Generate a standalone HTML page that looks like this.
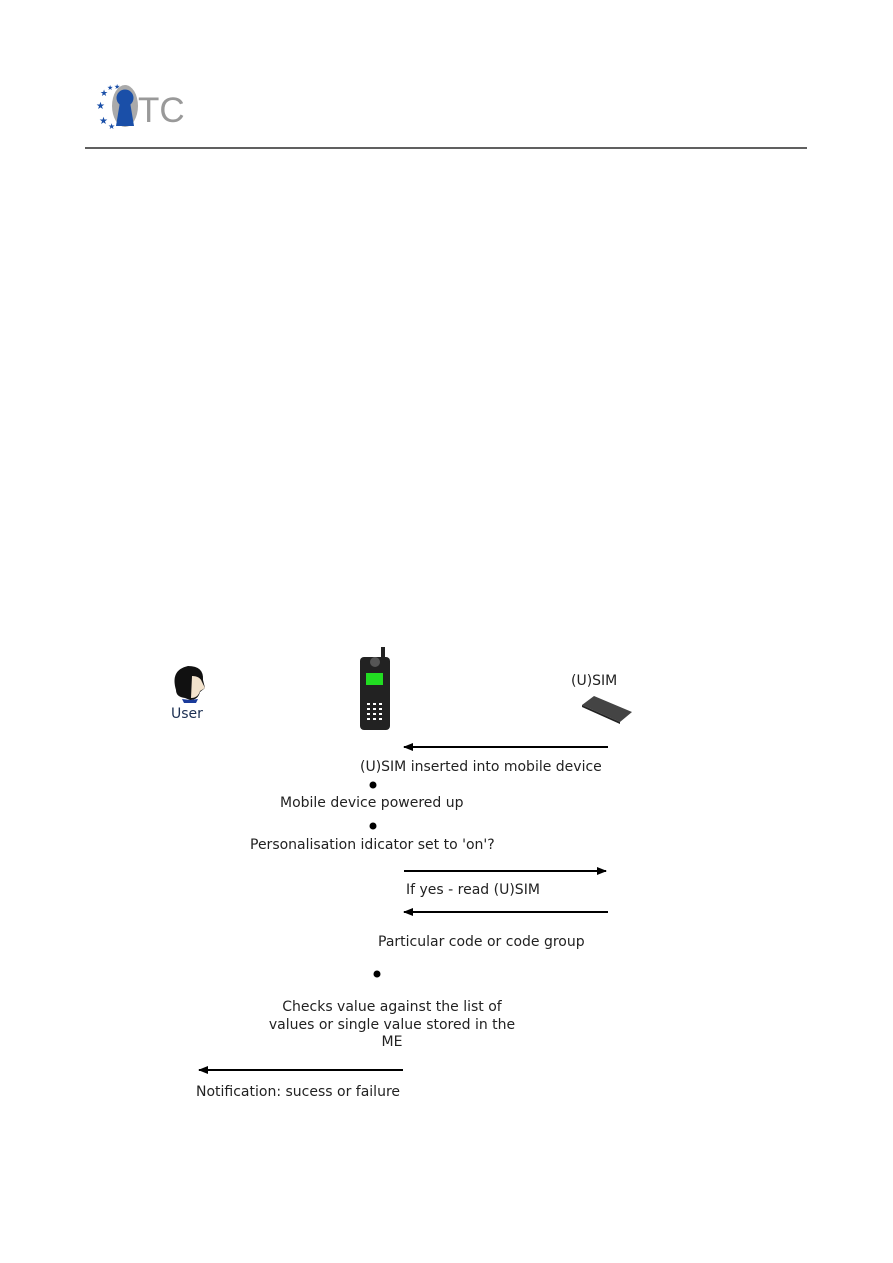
<!DOCTYPE html>
<html><head><meta charset="utf-8"><style>
html,body{margin:0;padding:0;background:#fff;}
body{width:893px;height:1263px;position:relative;overflow:hidden;font-family:"DejaVu Sans","Liberation Sans",sans-serif;}
.t{position:absolute;font-size:14px;color:#222;white-space:nowrap;line-height:16px;}
</style></head><body>
<svg width="893" height="1263" style="position:absolute;left:0;top:0">
 <g fill="#1a4fa8">
  <text x="100" y="96" font-size="9" fill="#1a4fa8">★</text>
  <text x="107" y="90" font-size="7" fill="#1a4fa8">★</text>
  <text x="114" y="89" font-size="7" fill="#1a4fa8">★</text>
  <text x="96" y="109" font-size="10" fill="#1a4fa8">★</text>
  <text x="99" y="124" font-size="10" fill="#1a4fa8">★</text>
  <text x="108" y="129" font-size="8" fill="#1a4fa8">★</text>
 </g>
 <ellipse cx="125" cy="106" rx="13" ry="21" fill="#aaa"/>
 <circle cx="125" cy="98" r="8.5" fill="#1a4fa8"/>
 <path d="M120 102 L116 126 L134 126 L130 102 Z" fill="#1a4fa8"/>
 <text x="138" y="122" font-family="Liberation Sans, sans-serif" font-size="35" fill="#999">TC</text>
 <line x1="85" y1="148" x2="807" y2="148" stroke="#000" stroke-width="1.3"/>

 <path d="M176 690 Q170 670 188 666 Q204 666 203 680 L205 688 L200 692 Q198 700 190 700 L185 698 Q176 697 176 690Z" fill="#111"/>
 <path d="M192 676 Q200 676 202 682 L205 688 L200 691 Q198 698 191 698 Z" fill="#f2e2cc"/>
 <path d="M182 699 L190 700 L198 699 L196 703 L184 703 Z" fill="#1a3a9a"/>
 <rect x="381" y="647" width="4" height="14" fill="#222"/>
 <rect x="360" y="657" width="30" height="73" rx="4" fill="#222"/>
 <circle cx="375" cy="662" r="5" fill="#555"/>
 <rect x="366" y="673" width="17" height="12" fill="#22dd22"/>
 <g fill="#fff">
  <rect x="367" y="703" width="3" height="2"/><rect x="373" y="703" width="3" height="2"/><rect x="379" y="703" width="3" height="2"/>
  <rect x="367" y="708" width="3" height="2"/><rect x="373" y="708" width="3" height="2"/><rect x="379" y="708" width="3" height="2"/>
  <rect x="367" y="713" width="3" height="2"/><rect x="373" y="713" width="3" height="2"/><rect x="379" y="713" width="3" height="2"/>
  <rect x="367" y="718" width="3" height="2"/><rect x="373" y="718" width="3" height="2"/><rect x="379" y="718" width="3" height="2"/>
 </g>
 <path d="M582 705 L594 696 L632 712 L620 722 Z" fill="#444"/>
 <path d="M582 705 L620 722 L620 724 L582 707 Z" fill="#222"/>

 <defs><marker id="a" markerWidth="10" markerHeight="8" refX="9" refY="4" orient="auto" markerUnits="userSpaceOnUse"><path d="M0 0 L10 4 L0 8 Z" fill="#000"/></marker></defs>
 <g stroke="#000" stroke-width="2" marker-end="url(#a)">
  <line x1="608" y1="747" x2="404" y2="747"/>
  <line x1="404" y1="871" x2="606" y2="871"/>
  <line x1="608" y1="912" x2="404" y2="912"/>
  <line x1="403" y1="1070" x2="199" y2="1070"/>
 </g>
 <circle cx="373" cy="785" r="3.5" fill="#000"/>
 <circle cx="373" cy="826" r="3.5" fill="#000"/>
 <circle cx="377" cy="974" r="3.5" fill="#000"/>
</svg>
<div class="t" style="left:171px;top:706px;color:#1c2f52">User</div>
<div class="t" style="left:571px;top:673px">(U)SIM</div>
<div class="t" style="left:360px;top:759px">(U)SIM inserted into mobile device</div>
<div class="t" style="left:280px;top:795px">Mobile device powered up</div>
<div class="t" style="left:250px;top:837px">Personalisation idicator set to 'on'?</div>
<div class="t" style="left:406px;top:882px">If yes - read (U)SIM</div>
<div class="t" style="left:378px;top:934px">Particular code or code group</div>
<div class="t" style="left:232px;top:999px;width:320px;text-align:center;white-space:normal;line-height:17.5px">Checks value against the list of<br>values or single value stored in the<br>ME</div>
<div class="t" style="left:196px;top:1084px">Notification: sucess or failure</div>
</body></html>
